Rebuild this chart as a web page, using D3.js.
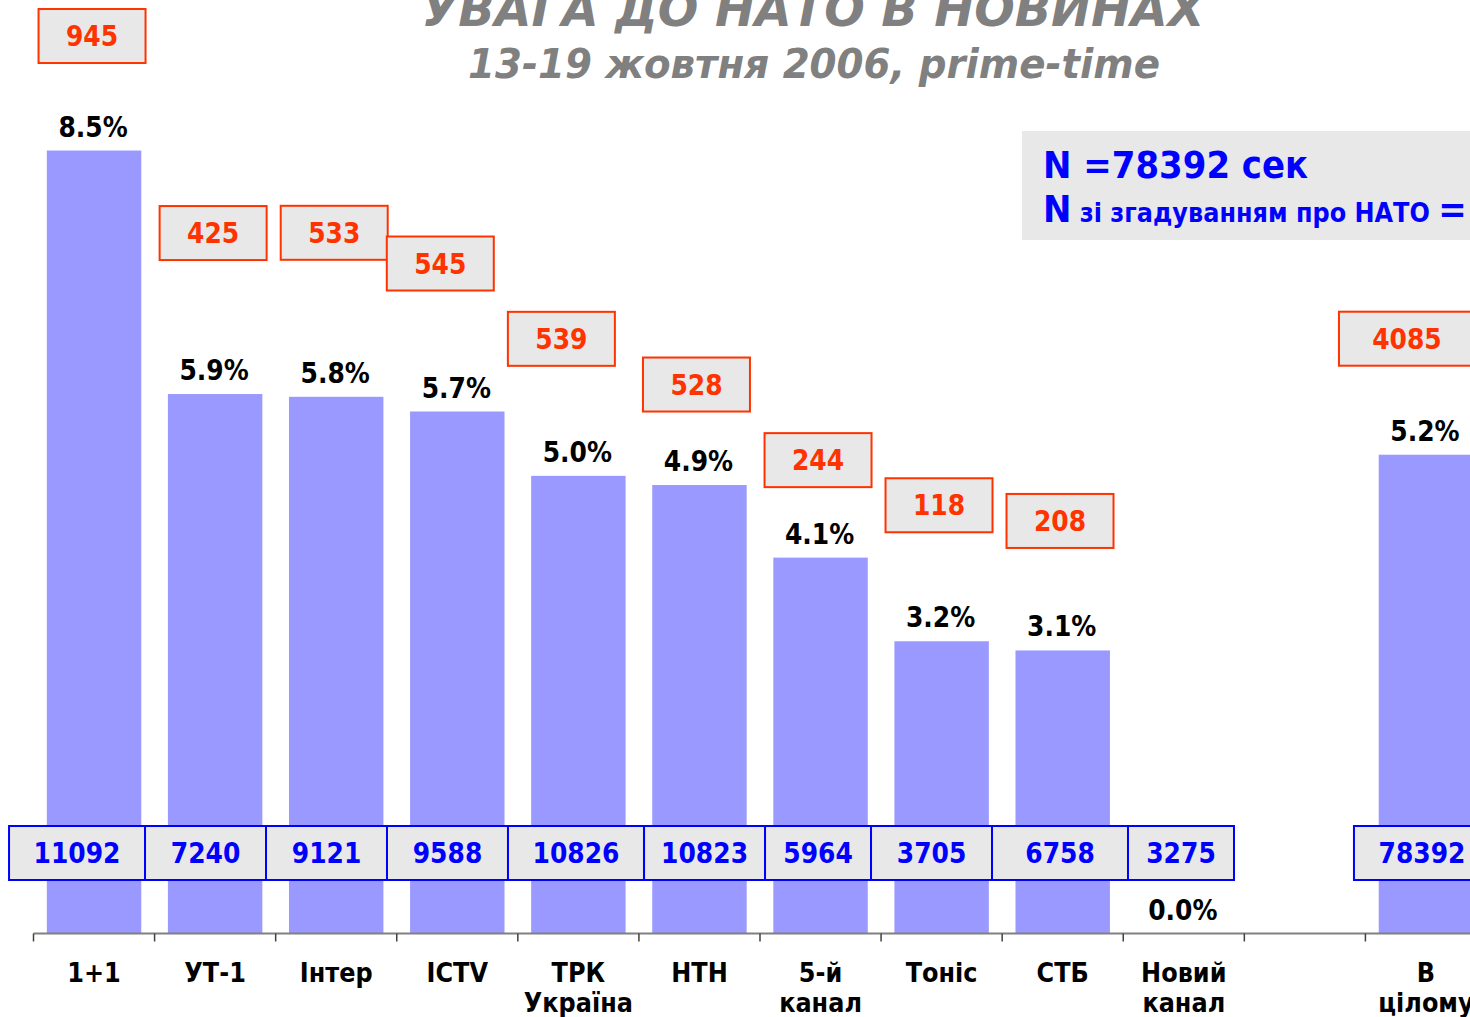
<!DOCTYPE html>
<html lang="uk">
<head>
<meta charset="UTF-8">
<title>Увага до НАТО в новинах</title>
<script src="https://d3js.org/d3.v7.min.js"></script>
<style>
    body { margin: 0; background: #fff; }
    svg { display: block; }
    text { font-family: "DejaVu Sans", Verdana, sans-serif; font-weight: bold; }
</style>
</head>
<body>
<svg id="chart" width="1470" height="1017"></svg>
<script>
    // channels (the empty one is a gap on the slide)
    const channels = ["1+1", "УТ-1", "Інтер", "ICTV", "ТРК Україна", "НТН", "5-й канал", "Тоніс", "СТБ", "Новий канал", "", "В цілому"];
    // share of news time with NATO mentions, %
    const sharePct = [8.52, 5.87, 5.84, 5.68, 4.98, 4.88, 4.09, 3.18, 3.08, 0, null, 5.21];
    // seconds mentioning NATO
    const natoSec = [945, 425, 533, 545, 539, 528, 244, 118, 208, null, null, 4085];
    // total news seconds
    const newsSec = [11092, 7240, 9121, 9588, 10826, 10823, 5964, 3705, 6758, 3275, null, 78392];

    // hand placed label boxes, like on the slide
    const natoBoxDx = [-2, -2, -2, -17, -17, -3, -2.5, -2.6, -2.7, 0, 0, -19];
    const natoBoxDy = [-114.5, -161, -164, -148, -137, -100.5, -97.5, -136, -129.5, 0, 0, -116];
    const newsBoxDx = [-17, -9.6, -9.7, -9.8, -2.4, 5.1, -2.5, -10.1, -2.7, -2.8, 0, -4];
    const newsBoxW = [136, 121, 121, 121, 136, 121, 106, 121, 136, 106, 0, 136];

    const svg = d3.select("#chart");
    const idx = d3.range(channels.length);

    const x = d3.scaleBand().domain(idx).range([33.5, 1486.5]);
    const y = d3.scaleLinear().domain([0, 9]).range([933.5, 106.4]);
    const bw = x.bandwidth();
    const mid = i => x(i) + bw / 2;

    // text on the slide is a bit taller than the font
    const at = (px, py) => `translate(${px},${py}) scale(1,1.1)`;

    // title
    svg.append("text")
        .attr("x", 813).attr("y", 26)
        .attr("text-anchor", "middle")
        .attr("font-style", "italic")
        .attr("font-size", 48)
        .attr("fill", "#808080")
        .attr("textLength", 783).attr("lengthAdjust", "spacingAndGlyphs")
        .text("УВАГА ДО НАТО В НОВИНАХ");
    svg.append("text")
        .attr("x", 814).attr("y", 78)
        .attr("text-anchor", "middle")
        .attr("font-style", "italic")
        .attr("font-size", 41)
        .attr("fill", "#808080")
        .attr("textLength", 692).attr("lengthAdjust", "spacingAndGlyphs")
        .text("13-19 жовтня 2006, prime-time");

    // bars
    svg.append("g")
        .selectAll("rect")
        .data(idx.filter(i => sharePct[i] !== null))
        .join("rect")
        .attr("x", i => x(i) + bw * 0.11)
        .attr("width", bw * 0.78)
        .attr("y", i => y(sharePct[i]))
        .attr("height", i => y(0) - y(sharePct[i]))
        .attr("fill", "#9999ff");

    // axis
    const ax = svg.append("g");
    ax.append("line")
        .attr("x1", x(0)).attr("x2", 1470)
        .attr("y1", y(0)).attr("y2", y(0))
        .attr("stroke", "#808080").attr("stroke-width", 2);
    ax.selectAll(".tick")
        .data(idx)
        .join("line")
        .attr("class", "tick")
        .attr("x1", i => x(i)).attr("x2", i => x(i))
        .attr("y1", y(0)).attr("y2", y(0) + 8)
        .attr("stroke", "#404040").attr("stroke-width", 1.5);

    // category labels
    const cats = svg.append("g").selectAll("g")
        .data(idx.filter(i => channels[i] !== ""))
        .join("g");
    cats.each(function (i) {
        const g = d3.select(this);
        channels[i].split(" ").forEach((w, k) => {
            g.append("text")
                .attr("transform", at(mid(i), 982 + k * 30))
                .attr("text-anchor", "middle")
                .attr("font-size", 24)
                .attr("fill", "#000")
                .text(w);
        });
    });

    // percent labels
    svg.append("g")
        .selectAll("text")
        .data(idx.filter(i => sharePct[i] !== null))
        .join("text")
        .attr("transform", i => at(mid(i) - 1, y(sharePct[i]) - 14))
        .attr("text-anchor", "middle")
        .attr("font-size", 25)
        .attr("fill", "#000")
        .text(i => sharePct[i].toFixed(1) + "%");

    // NATO seconds boxes
    const nato = svg.append("g")
        .selectAll("g")
        .data(idx.filter(i => natoSec[i] !== null))
        .join("g")
        .attr("transform", i => `translate(${mid(i) + natoBoxDx[i]},${y(sharePct[i]) + natoBoxDy[i]})`);
    nato.append("rect")
        .attr("x", i => String(natoSec[i]).length > 3 ? -68 : -53.5)
        .attr("y", -27)
        .attr("width", i => String(natoSec[i]).length > 3 ? 136 : 107)
        .attr("height", 54)
        .attr("fill", "#e8e8e8")
        .attr("stroke", "#ff3300").attr("stroke-width", 2);
    nato.append("text")
        .attr("transform", at(0, 10))
        .attr("text-anchor", "middle")
        .attr("font-size", 25)
        .attr("fill", "#ff3300")
        .text(i => natoSec[i]);

    // total news seconds boxes
    const news = svg.append("g")
        .selectAll("g")
        .data(idx.filter(i => newsSec[i] !== null))
        .join("g")
        .attr("transform", i => `translate(${mid(i) + newsBoxDx[i]},853)`);
    news.append("rect")
        .attr("x", i => -newsBoxW[i] / 2)
        .attr("y", -27)
        .attr("width", i => newsBoxW[i])
        .attr("height", 54)
        .attr("fill", "#e8e8e8")
        .attr("stroke", "#0000ff").attr("stroke-width", 2);
    news.append("text")
        .attr("transform", at(0, 10))
        .attr("text-anchor", "middle")
        .attr("font-size", 25)
        .attr("fill", "#0000ff")
        .text(i => newsSec[i]);

    // note box
    const note = svg.append("g");
    note.append("rect")
        .attr("x", 1022).attr("y", 131)
        .attr("width", 460).attr("height", 109)
        .attr("fill", "#e8e8e8");
    note.append("text")
        .attr("transform", at(1043, 178))
        .attr("font-size", 34)
        .attr("fill", "#0000ff")
        .text("N =78392 сек");
    const l2 = note.append("text")
        .attr("transform", at(1043, 222))
        .attr("fill", "#0000ff");
    l2.append("tspan").attr("font-size", 34).text("N");
    l2.append("tspan").attr("font-size", 24).text(" зі згадуванням про НАТО ");
    l2.append("tspan").attr("font-size", 34).text("=");
</script>
</body>
</html>
